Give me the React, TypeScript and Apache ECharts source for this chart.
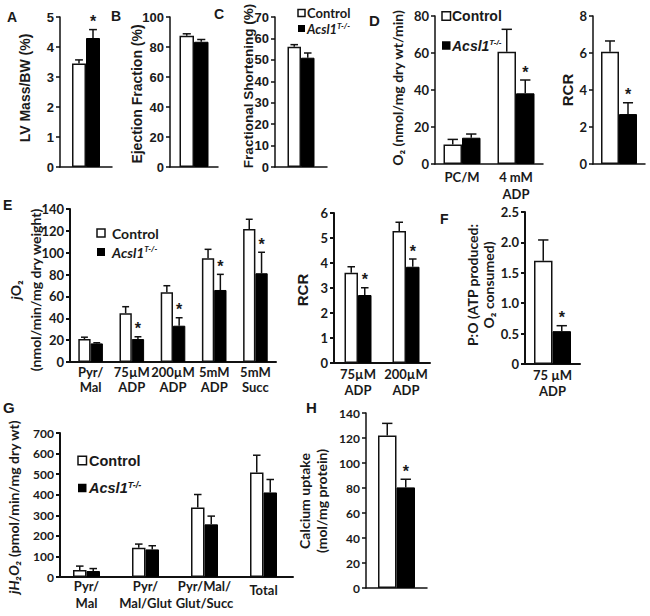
import React, { useEffect, useRef } from 'react';
import * as echarts from 'echarts';

const ARIAL = '"Liberation Sans", Arial, sans-serif';
const CAL = 'Lato, "Open Sans", sans-serif';
const INK = '#1a1a1a';

// A – LV mass / body weight
const lvCtrl = [3.45];
const lvCtrlSem = [0.12];
const lvKo = [4.3];
const lvKoSem = [0.28];
const lvSig = [true];

// B – ejection fraction
const efCtrl = [87.5];
const efCtrlSem = [1.3];
const efKo = [83.5];
const efKoSem = [1.5];
const efSig = [false];

// C – fractional shortening
const fsCtrl = [56.1];
const fsCtrlSem = [1.0];
const fsKo = [51.0];
const fsKoSem = [2.2];
const fsSig = [false];

// D – O2 consumption with PC/M
const dCats = ['PC/M', '4 mM\nADP'];
const dCtrl = [10.6, 60.7];
const dCtrlSem = [2.7, 12.1];
const dKo = [14.2, 38.2];
const dKoSem = [2.0, 7.2];
const dSig = [false, true];

// D – respiratory control ratio
const dRcrCtrl = [6.07];
const dRcrCtrlSem = [0.58];
const dRcrKo = [2.7];
const dRcrKoSem = [0.61];
const dRcrSig = [true];

// E – jO2 with pyruvate/malate
const eCats = ['Pyr/\nMal', '75µM\nADP', '200µM\nADP', '5mM\nADP', '5mM\nSucc'];
const eCtrl = [21, 44.6, 63.8, 94.9, 121.7];
const eCtrlSem = [1.7, 6.0, 6.0, 8.2, 8.9];
const eKo = [17, 21, 33.2, 65.9, 81.2];
const eKoSem = [0.6, 2.1, 7.3, 14.3, 19.2];
const eSig = [false, true, true, true, true];

// E – RCR
const eRcrCats = ['75µM\nADP', '200µM\nADP'];
const eRcrCtrl = [3.61, 5.28];
const eRcrCtrlSem = [0.24, 0.35];
const eRcrKo = [2.72, 3.85];
const eRcrKoSem = [0.29, 0.31];
const eRcrSig = [true, true];

// F – P:O ratio
const fCats = ['75 µM\nADP'];
const fCtrl = [1.7];
const fCtrlSem = [0.34];
const fKo = [0.54];
const fKoSem = [0.09];
const fSig = [true];

// G – H2O2 emission
const gCats = ['Pyr/\nMal', 'Pyr/\nMal/Glut', 'Pyr/Mal/\nGlut/Succ', 'Total'];
const gCtrl = [34, 142, 338, 508];
const gCtrlSem = [19, 18, 63, 84];
const gKo = [29, 134, 256, 411];
const gKoSem = [12, 18, 40, 63];
const gSig = [false, false, false, false];

// H – calcium uptake
const hCtrl = [122];
const hCtrlSem = [9.7];
const hKo = [80.5];
const hKoSem = [6.5];
const hSig = [true];

interface Panel {
  left: number; top: number; width: number; height: number;
  cats: string[];
  ctrl: number[]; ctrlSem: number[]; ko: number[]; koSem: number[]; sig: boolean[];
  max: number; interval: number; bw: number;
  tickFont: string; tickSize: number; axisWidth: number;
  labelMargin?: number; lineHeight?: number; yOffset?: number;
  tickFmt?: (v: number) => string;
}

const panels: Panel[] = [
  { left: 60, top: 17, width: 52, height: 150, cats: [''], ctrl: lvCtrl, ctrlSem: lvCtrlSem, ko: lvKo, koSem: lvKoSem, sig: lvSig, max: 5, interval: 1, bw: 14, tickFont: ARIAL, tickSize: 13, axisWidth: 1.5 },
  { left: 170, top: 17, width: 48, height: 150, cats: [''], ctrl: efCtrl, ctrlSem: efCtrlSem, ko: efKo, koSem: efKoSem, sig: efSig, max: 100, interval: 20, bw: 14.5, tickFont: ARIAL, tickSize: 13, axisWidth: 1.5 },
  { left: 275, top: 17, width: 52, height: 150, cats: [''], ctrl: fsCtrl, ctrlSem: fsCtrlSem, ko: fsKo, koSem: fsKoSem, sig: fsSig, max: 70, interval: 10, bw: 13.5, tickFont: ARIAL, tickSize: 13, axisWidth: 1.5 },
  { left: 435, top: 16, width: 108, height: 148, cats: dCats, ctrl: dCtrl, ctrlSem: dCtrlSem, ko: dKo, koSem: dKoSem, sig: dSig, max: 80, interval: 20, bw: 18.5, tickFont: CAL, tickSize: 13, axisWidth: 1.5, labelMargin: 4, lineHeight: 17 },
  { left: 593, top: 16, width: 52, height: 148, cats: [''], ctrl: dRcrCtrl, ctrlSem: dRcrCtrlSem, ko: dRcrKo, koSem: dRcrKoSem, sig: dRcrSig, max: 8, interval: 2, bw: 18, tickFont: CAL, tickSize: 13, axisWidth: 1.5 },
  { left: 70, top: 209, width: 206, height: 153, cats: eCats, ctrl: eCtrl, ctrlSem: eCtrlSem, ko: eKo, koSem: eKoSem, sig: eSig, max: 140, interval: 20, bw: 12.3, tickFont: CAL, tickSize: 13, axisWidth: 2, labelMargin: 2, lineHeight: 15 },
  { left: 334, top: 213, width: 96, height: 150, cats: eRcrCats, ctrl: eRcrCtrl, ctrlSem: eRcrCtrlSem, ko: eRcrKo, koSem: eRcrKoSem, sig: eRcrSig, max: 6, interval: 1, bw: 13.5, tickFont: CAL, tickSize: 13, axisWidth: 2, labelMargin: 3, lineHeight: 16 },
  { left: 525, top: 212, width: 55, height: 152, cats: fCats, ctrl: fCtrl, ctrlSem: fCtrlSem, ko: fKo, koSem: fKoSem, sig: fSig, max: 2.5, interval: 0.5, bw: 18.5, tickFont: CAL, tickSize: 13, axisWidth: 2, labelMargin: 3, lineHeight: 16, tickFmt: (v) => (v === 0 ? '0' : v.toFixed(1)) },
  { left: 57, top: 433, width: 236, height: 144, cats: gCats, ctrl: gCtrl, ctrlSem: gCtrlSem, ko: gKo, koSem: gKoSem, sig: gSig, max: 700, interval: 100, bw: 13.5, tickFont: CAL, tickSize: 12, axisWidth: 2, labelMargin: 0, lineHeight: 17, yOffset: -3 },
  { left: 366, top: 413, width: 61, height: 175, cats: [''], ctrl: hCtrl, ctrlSem: hCtrlSem, ko: hKo, koSem: hKoSem, sig: hSig, max: 140, interval: 20, bw: 18.5, tickFont: CAL, tickSize: 12, axisWidth: 1.5 },
];

function buildOption() {
  const grid: any[] = [];
  const xAxis: any[] = [];
  const yAxis: any[] = [];
  const series: any[] = [];

  panels.forEach((p, i) => {
    grid.push({ left: p.left, top: p.top, width: p.width, height: p.height });
    const axisLineStyle = { color: '#111', width: p.axisWidth };
    xAxis.push({
      type: 'category',
      gridIndex: i,
      data: p.cats,
      axisTick: { show: false },
      axisLine: { lineStyle: axisLineStyle },
      axisLabel: {
        show: p.cats.some((c) => c !== ''),
        interval: 0,
        fontFamily: CAL,
        fontWeight: 'bold',
        fontSize: 13,
        color: INK,
        lineHeight: p.lineHeight || 15,
        margin: p.labelMargin ?? 4,
        formatter: (v: string) => (v === 'Total' ? '{t|Total}' : v),
        rich: { t: { fontFamily: CAL, fontWeight: 'bold', fontSize: 13, color: INK, padding: [9, 0, 0, 0] } },
      },
    });
    yAxis.push({
      type: 'value',
      gridIndex: i,
      min: 0,
      max: p.max,
      interval: p.interval,
      offset: p.yOffset || 0,
      splitLine: { show: false },
      axisLine: { show: true, lineStyle: axisLineStyle },
      axisTick: { show: true, length: 4, lineStyle: axisLineStyle },
      axisLabel: {
        fontFamily: p.tickFont,
        fontWeight: 'bold',
        fontSize: p.tickSize,
        color: INK,
        margin: 6,
        formatter: p.tickFmt,
      },
    });
    series.push({
      type: 'bar', name: 'Control', xAxisIndex: i, yAxisIndex: i,
      data: p.ctrl, barWidth: p.bw, barGap: '0%',
      itemStyle: { color: '#ffffff', borderColor: '#111', borderWidth: 1.5 },
    });
    series.push({
      type: 'bar', name: 'Acsl1', xAxisIndex: i, yAxisIndex: i,
      data: p.ko, barWidth: p.bw, barGap: '0%',
      itemStyle: { color: '#000000', borderColor: '#000', borderWidth: 1 },
    });
    const errData: number[][] = [];
    p.cats.forEach((_, k) => {
      errData.push([k, p.ctrl[k], p.ctrl[k] + p.ctrlSem[k], -1, 0]);
      errData.push([k, p.ko[k], p.ko[k] + p.koSem[k], 1, p.sig[k] ? 1 : 0]);
    });
    const bw = p.bw;
    series.push({
      type: 'custom', xAxisIndex: i, yAxisIndex: i, data: errData,
      encode: { x: 0, y: [1, 2] },
      z: 5,
      renderItem: (_params: any, api: any) => {
        const ci = api.value(0);
        const base = api.coord([ci, api.value(1)]);
        const top = api.coord([ci, api.value(2)]);
        const x = base[0] + (api.value(3) * bw) / 2;
        const cap = bw * 0.28;
        const line = { stroke: '#111', lineWidth: 1.5 };
        const children: any[] = [
          { type: 'line', shape: { x1: x, y1: base[1], x2: x, y2: top[1] }, style: line },
          { type: 'line', shape: { x1: x - cap, y1: top[1], x2: x + cap, y2: top[1] }, style: line },
        ];
        if (api.value(4)) {
          children.push({
            type: 'text', x, y: top[1] - 8,
            style: {
              text: '*', fontFamily: ARIAL, fontSize: 16, fontWeight: 'bold', fill: INK,
              align: 'center', verticalAlign: 'middle', textAlign: 'center', textVerticalAlign: 'middle',
            },
          });
        }
        return { type: 'group', children };
      },
    });
  });

  const txt = (x: number, y: number, text: string, font: string, size: number, extra: any = {}) => ({
    type: 'text', x, y,
    style: {
      text, fontFamily: font, fontSize: size, fontWeight: 'bold', fill: INK,
      align: 'left', verticalAlign: 'middle', textAlign: 'left', textVerticalAlign: 'middle', ...extra,
    },
  });

  const vname = (x: number, y: number, text: string, font: string, size: number, lineHeight = 18) => ({
    type: 'text', x, y, rotation: Math.PI / 2,
    style: {
      text, fontFamily: font, fontSize: size, fontWeight: 'bold', fill: INK, lineHeight,
      align: 'center', verticalAlign: 'middle', textAlign: 'center', textVerticalAlign: 'middle',
      rich: {
        i: { fontFamily: font, fontSize: size, fontWeight: 'bold', fontStyle: 'italic', fill: INK, lineHeight },
        n: { fontFamily: font, fontSize: size, fontWeight: 'bold', fill: INK, lineHeight },
      },
    },
  });

  const legend = (x: number, y1: number, y2: number, size: number, tx: number, font: string, fs: number) => [
    { type: 'rect', shape: { x, y: y1 - size / 2, width: size, height: size }, style: { fill: '#fff', stroke: '#111', lineWidth: 1.5 } },
    txt(tx, y1, 'Control', font, fs),
    { type: 'rect', shape: { x, y: y2 - size / 2, width: size, height: size }, style: { fill: '#000' } },
    {
      type: 'text', x: tx, y: y2,
      style: {
        text: '{a|Acsl1}{s|T-/-}', fill: INK,
        align: 'left', verticalAlign: 'middle', textAlign: 'left', textVerticalAlign: 'middle',
        rich: {
          a: { fontFamily: font, fontSize: fs, fontWeight: 'bold', fontStyle: 'italic', fill: INK },
          s: { fontFamily: font, fontSize: Math.round(fs * 0.6), fontWeight: 'bold', fontStyle: 'italic', fill: INK, verticalAlign: 'top' },
        },
      },
    },
  ];

  const graphic: any[] = [
    // panel letters
    txt(7, 17, 'A', ARIAL, 14),
    txt(111, 16, 'B', ARIAL, 14),
    txt(214, 14, 'C', ARIAL, 14),
    txt(369, 20, 'D', ARIAL, 15),
    txt(3, 205, 'E', ARIAL, 14),
    txt(440, 219, 'F', ARIAL, 14),
    txt(3, 407, 'G', ARIAL, 15),
    txt(306, 407, 'H', ARIAL, 15),
    // axis titles
    vname(25, 88, 'LV Mass/BW (%)', ARIAL, 14),
    vname(137, 94, 'Ejection Fraction (%)', ARIAL, 14),
    vname(248, 86, 'Fractional Shortening (%)', ARIAL, 13.5),
    vname(397, 88, 'O₂ (nmol/mg dry wt/min)', CAL, 14),
    vname(567, 90, 'RCR', ARIAL, 15),
    vname(25, 290, '{i|j}{n|O₂}\n(nmol/min/mg dry weight)', CAL, 14, 20),
    vname(302, 290, 'RCR', ARIAL, 15),
    vname(480, 285, 'P:O (ATP produced:\nO₂ consumed)', CAL, 14, 16),
    vname(13, 507, '{i|jH₂O₂} {n|(pmol/min/mg dry wt)}', CAL, 14),
    vname(313, 501, 'Calcium uptake\n(mol/mg protein)', CAL, 14, 17),
    // legends
    ...legend(298, 13, 28.5, 7, 307, CAL, 13),
    ...legend(442, 16, 45.5, 8.5, 452, ARIAL, 14),
    ...legend(97, 233, 252, 8, 112, CAL, 14),
    ...legend(78, 460.5, 488, 8.5, 89, ARIAL, 14.5),
  ];

  return { animation: false, backgroundColor: '#ffffff', grid, xAxis, yAxis, series, graphic };
}

export default function App() {
  const ref = useRef<HTMLDivElement>(null);
  useEffect(() => {
    if (!ref.current) return;
    const chart = echarts.init(ref.current, undefined, { renderer: 'svg' });
    chart.setOption(buildOption() as any);
    return () => chart.dispose();
  }, []);
  return (
    <div
      ref={ref}
      style={{ position: 'absolute', left: 0, top: 0, width: 650, height: 616, background: '#fff' }}
    />
  );
}
